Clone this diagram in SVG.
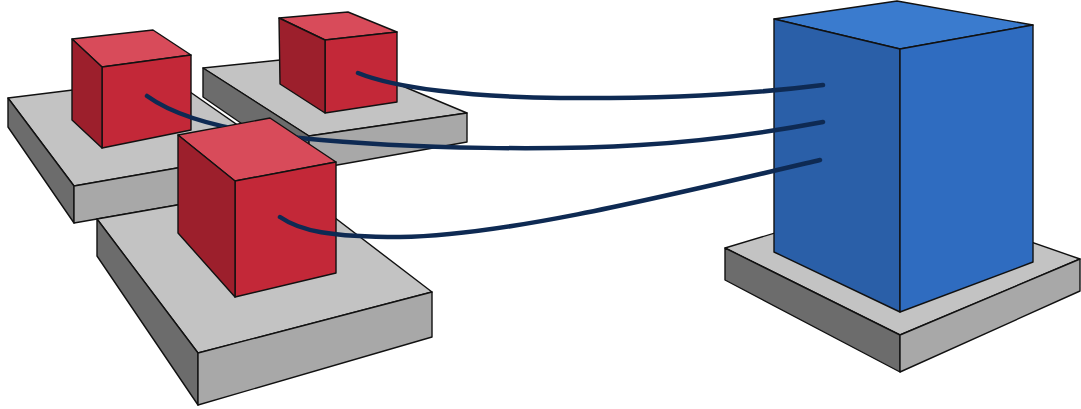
<svg xmlns="http://www.w3.org/2000/svg" width="1081" height="409" viewBox="0 0 1081 409">
<style>
  .edge { stroke: #111; stroke-width: 1.4; stroke-linejoin: round; }
  .ptop { fill: #c3c3c3; }
  .pdark { fill: #6c6c6c; }
  .pmid { fill: #a8a8a8; }
  .rtop { fill: #d84b5a; }
  .rfront { fill: #c32838; }
  .rleft { fill: #9c1f2c; }
  .btop { fill: #3a7bce; }
  .bfront { fill: #2a5fa8; }
  .bright { fill: #2f6cc0; }
  .cable { fill: none; stroke: #0e2a53; stroke-width: 4.5; stroke-linecap: round; }
</style>
<defs>
  <mask id="behindCubeC" maskUnits="userSpaceOnUse" x="0" y="0" width="1081" height="409">
    <rect x="0" y="0" width="1081" height="409" fill="#fff"/>
    <polygon points="178,135 270,118 336,162 336,273 235,297 178,233" fill="#000"/>
  </mask>
</defs>
<rect x="0" y="0" width="1081" height="409" fill="#fff"/>

<g id="node-b">
  <polygon class="ptop edge" points="203,68 328,55 467,113 309,136"/>
  <polygon class="pdark edge" points="203,68 309,136 309,170 203,97"/>
  <polygon class="pmid edge" points="309,136 467,113 467,142 309,170"/>
  <polygon class="rtop edge" points="279,18 348,12 397,32 325,40"/>
  <polygon class="rfront edge" points="325,40 397,32 397,102 325,113"/>
  <polygon class="rleft edge" points="279,18 325,40 325,113 280,84"/>
</g>

<g id="node-a">
  <polygon class="ptop edge" points="8,98 170,78 275,151 74,186"/>
  <polygon class="pdark edge" points="8,98 74,186 74,223 8,127"/>
  <polygon class="pmid edge" points="74,186 275,151 275,188 74,223"/>
  <polygon class="rtop edge" points="72,39 153,30 191,55 102,67"/>
  <polygon class="rfront edge" points="102,67 191,55 191,130 102,148"/>
  <polygon class="rleft edge" points="72,39 102,67 102,148 72,120"/>
</g>

<g id="node-c">
  <polygon class="ptop edge" points="97,219 292,185 432,292 198,353"/>
  <polygon class="pdark edge" points="97,219 198,353 198,405 97,256"/>
  <polygon class="pmid edge" points="198,353 432,292 432,337 198,405"/>
  <polygon class="rtop edge" points="178,135 270,118 336,162 235,181"/>
  <polygon class="rfront edge" points="235,181 336,162 336,273 235,297"/>
  <polygon class="rleft edge" points="178,135 235,181 235,297 178,233"/>
</g>

<g id="node-server">
  <polygon class="ptop edge" points="725,248 898,196 1080,259 900,335"/>
  <polygon class="pdark edge" points="725,248 900,335 900,372 725,280"/>
  <polygon class="pmid edge" points="900,335 1080,259 1080,291 900,372"/>
  <polygon class="btop edge" points="774,19 897,1 1033,25 900,49"/>
  <polygon class="bfront edge" points="774,19 900,49 900,312 774,252"/>
  <polygon class="bright edge" points="900,49 1033,25 1033,262 900,312"/>
</g>

<g id="connectors">
  <path id="cable-b" class="cable" d="M358,73 C395,88 470,97 560,98 C670,99 760,93 823,85"/>
  <path id="cable-a" class="cable" mask="url(#behindCubeC)" d="M147,96 C172,114 215,130 300,138 C420,150 560,150 640,145 C720,140 775,131 823,122"/>
  <path id="cable-c" class="cable" d="M280,217 C300,231 330,237 400,237 C500,236 650,200 820,160"/>
</g>
</svg>
